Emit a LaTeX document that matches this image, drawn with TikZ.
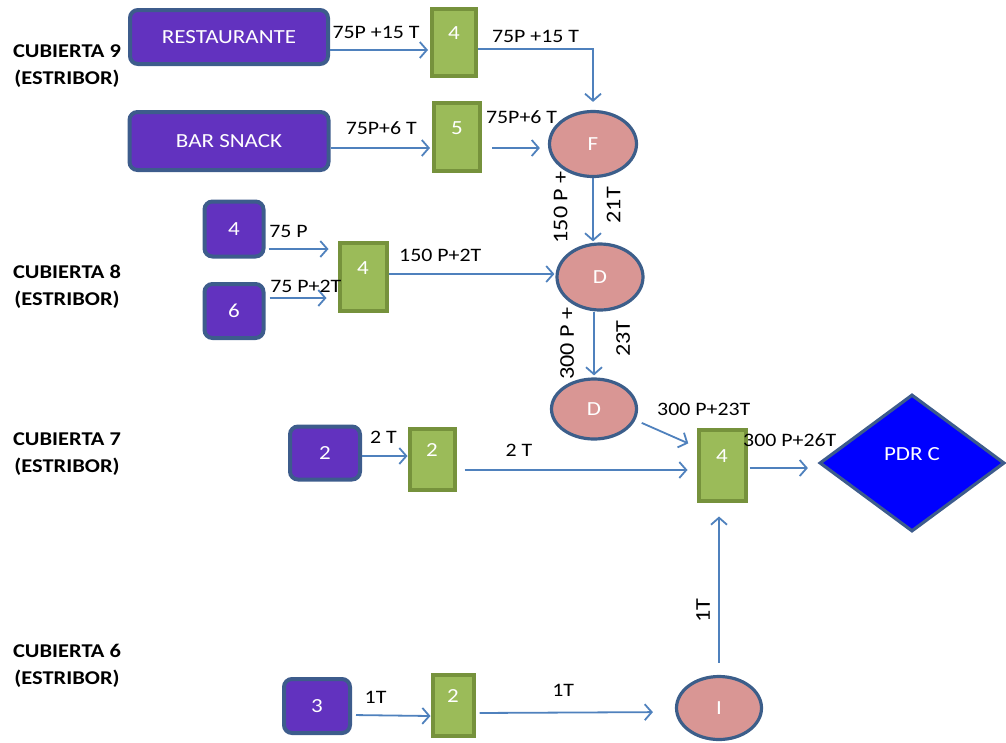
\documentclass[tikz,border=0pt]{standalone}
\usepackage{fontspec}
\setmainfont{Carlito}[FakeStretch=1.15]
\usepackage{xcolor}
\usepackage{tikz}
\usetikzlibrary{calc,arrows.meta,shapes.geometric}
\definecolor{srcbg}{HTML}{6232BF}
\definecolor{srcedge}{HTML}{3D5C8C}
\definecolor{boxbg}{HTML}{9BBB59}
\definecolor{boxedge}{HTML}{76923C}
\definecolor{hubbg}{HTML}{D99694}
\definecolor{hubedge}{HTML}{3C5E8A}
\definecolor{exitbg}{HTML}{0000FF}
\definecolor{flowc}{HTML}{4F81BD}
\tikzset{
  src/.style={draw=srcedge, fill=srcbg, line width=4pt, rounded corners=8pt, text=white, font=\fontsize{20}{22}\selectfont},
  box/.style={draw=boxedge, fill=boxbg, line width=4pt, text=white, text depth=18pt, font=\fontsize{20}{22}\selectfont},
  hub/.style={ellipse, draw=hubedge, fill=hubbg, line width=3.2pt, text=white, font=\fontsize{20}{22}\selectfont},
  exit/.style={diamond, draw=srcedge, fill=exitbg, line width=3.2pt, text=white, text depth=18pt, font=\fontsize{20}{22}\selectfont},
  flow/.style={draw=flowc, line width=1.8pt, -{Straight Barb[length=7pt,width=16pt]}},
  lab/.style={text=black, inner sep=1pt, font=\fontsize{19}{20}\selectfont},
  labv/.style={lab, rotate=90, font=\fontsize{21}{22}\selectfont},
  deck/.style={align=center, font=\bfseries\fontsize{19.5}{27}\selectfont},
}
\begin{document}
\begin{tikzpicture}[x=1pt, y=-1pt]
  \useasboundingbox (0,0) rectangle (1006,742);
  % decks
  \node[deck] (c9) at (67,66) {CUBIERTA 9\\(ESTRIBOR)};
  \node[deck] (c8) at (67,287) {CUBIERTA 8\\(ESTRIBOR)};
  \node[deck] (c7) at (67,454) {CUBIERTA 7\\(ESTRIBOR)};
  \node[deck] (c6) at (67,666) {CUBIERTA 6\\(ESTRIBOR)};
  % sources
  \node[src, minimum width=198pt, minimum height=54pt] (rest) at (229,37) {RESTAURANTE};
  \node[src, minimum width=199pt, minimum height=58pt] (bar) at (229,141) {BAR SNACK};
  \node[src, minimum width=59pt, minimum height=55pt] (p8a) at (234,229) {4};
  \node[src, minimum width=59pt, minimum height=54pt] (p8b) at (234,311) {6};
  \node[src, minimum width=70pt, minimum height=53pt] (p7) at (325,453) {2};
  \node[src, minimum width=66pt, minimum height=54pt] (p6) at (317,706) {3};
  % green boxes
  \node[box, minimum width=44pt, minimum height=67pt] (g9a) at (454,42) {4};
  \node[box, minimum width=46pt, minimum height=68pt] (g9b) at (457,137) {5};
  \node[box, minimum width=47pt, minimum height=68pt] (g8) at (363,277) {4};
  \node[box, minimum width=45pt, minimum height=61pt] (g7) at (432,459) {2};
  \node[box, minimum width=47pt, minimum height=71pt] (g7b) at (722,465) {4};
  \node[box, minimum width=41pt, minimum height=61pt] (g6) at (453,705) {2};
  % ellipses
  \node[hub, minimum width=87pt, minimum height=65pt] (f) at (593,144) {F};
  \node[hub, minimum width=86pt, minimum height=66pt] (d1) at (600,277) {D};
  \node[hub, minimum width=85pt, minimum height=60pt] (d2) at (594,409) {D};
  \node[hub, minimum width=85pt, minimum height=63pt] (i) at (719,708) {I};
  \node[exit, minimum width=185pt, minimum height=137pt] (pdr) at (912,463) {PDR C};
  % deck 9
  \draw[flow, shorten >=2pt] ([yshift=-13pt]rest.east) -- node[lab, pos=0.46, above=9pt] {75P +15 T} ([yshift=-8pt]g9a.west);
  \draw[flow, shorten >=8pt] ([yshift=-7pt]g9a.east) -| node[lab, pos=0.25, above=4pt] {75P +15 T} (f.north);
  \draw[flow, shorten >=2pt] ([yshift=-7pt]bar.east) -- node[lab, above=11pt] {75P+6 T} ([yshift=-11pt]g9b.west);
  \draw[flow, shorten <=10pt, shorten >=8pt] ([yshift=-11pt]g9b.east) -- node[lab, pos=0.6, above=22pt] {75P+6 T} ([yshift=-4pt]f.west);
  \draw[flow, shorten >=1pt] (f.south) -- (f.south |- d1.north);
  \node[labv] (l150) at ($(f.south)!0.5!(d1.north)+(-36,-3)$) {150 P +};
  \node[labv] (l21) at ($(f.south)!0.5!(d1.north)+(17,-5)$) {21T};
  % deck 8
  \draw[flow, shorten <=3pt, shorten >=9pt] ([yshift=-20pt]p8a.east) -- node[lab, pos=0.32, above=9pt] {75 P} ([yshift=28pt]g8.west);
  \draw[flow, shorten <=4pt, shorten >=11pt] ([yshift=13pt]p8b.east) -- node[lab, pos=0.56, above=3pt] {75 P+2T} ([yshift=-21pt]g8.west);
  \draw[flow, shorten >=1pt] ([yshift=3pt]g8.east) -- node[lab, pos=0.31, above=10pt] {150 P+2T} ([yshift=3pt]d1.west);
  \draw[flow, shorten >=2pt] (d1.south -| d2.north) -- (d2.north);
  \node[labv] (l300) at ($(d1.south)!0.5!(d2.north)+(-30,-1)$) {300 P +};
  \node[labv] (l23) at ($(d1.south)!0.5!(d2.north)+(26,-6)$) {23T};
  % deck 7
  \draw[flow, shorten <=7pt, shorten >=9pt] (d2.-15) -- node[lab, pos=0, anchor=south west, xshift=20pt, yshift=3pt] {300 P+23T} ([yshift=18pt]g7b.west);
  \draw[flow] ([yshift=-3pt]p7.east) -- node[lab, pos=0.47, above=11pt] {2 T} ([yshift=3pt]g7.west);
  \draw[flow, shorten <=8pt, shorten >=9pt] ([yshift=-11pt]g7.east) -- node[lab, pos=0.26, above=12pt] {2 T} ([yshift=-5pt]g7b.west);
  \draw[flow, shorten <=2pt, shorten >=10pt] ([yshift=-3pt]g7b.east) -- node[lab, pos=0.6, above=19pt] {300 P+26T} ([yshift=-5pt]pdr.west);
  % deck 6
  \draw[flow, shorten <=4pt] ([yshift=-9pt]p6.east) -- node[lab, pos=0.3, above=10pt] {1T} ([yshift=-11pt]g6.west);
  \draw[flow, shorten <=4pt, shorten >=22pt] ([yshift=-8pt]g6.east) -- node[lab, pos=0.44, above=14pt] {1T} ([yshift=-4pt]i.west);
  \draw[flow, shorten <=12pt, shorten >=14pt] (i.north) -- (i.north |- g7b.south);
  \node[labv] (l1t) at ($(i.north)!0.5!(i.north |- g7b.south)+(-16,22)$) {1T};
\end{tikzpicture}
\end{document}
